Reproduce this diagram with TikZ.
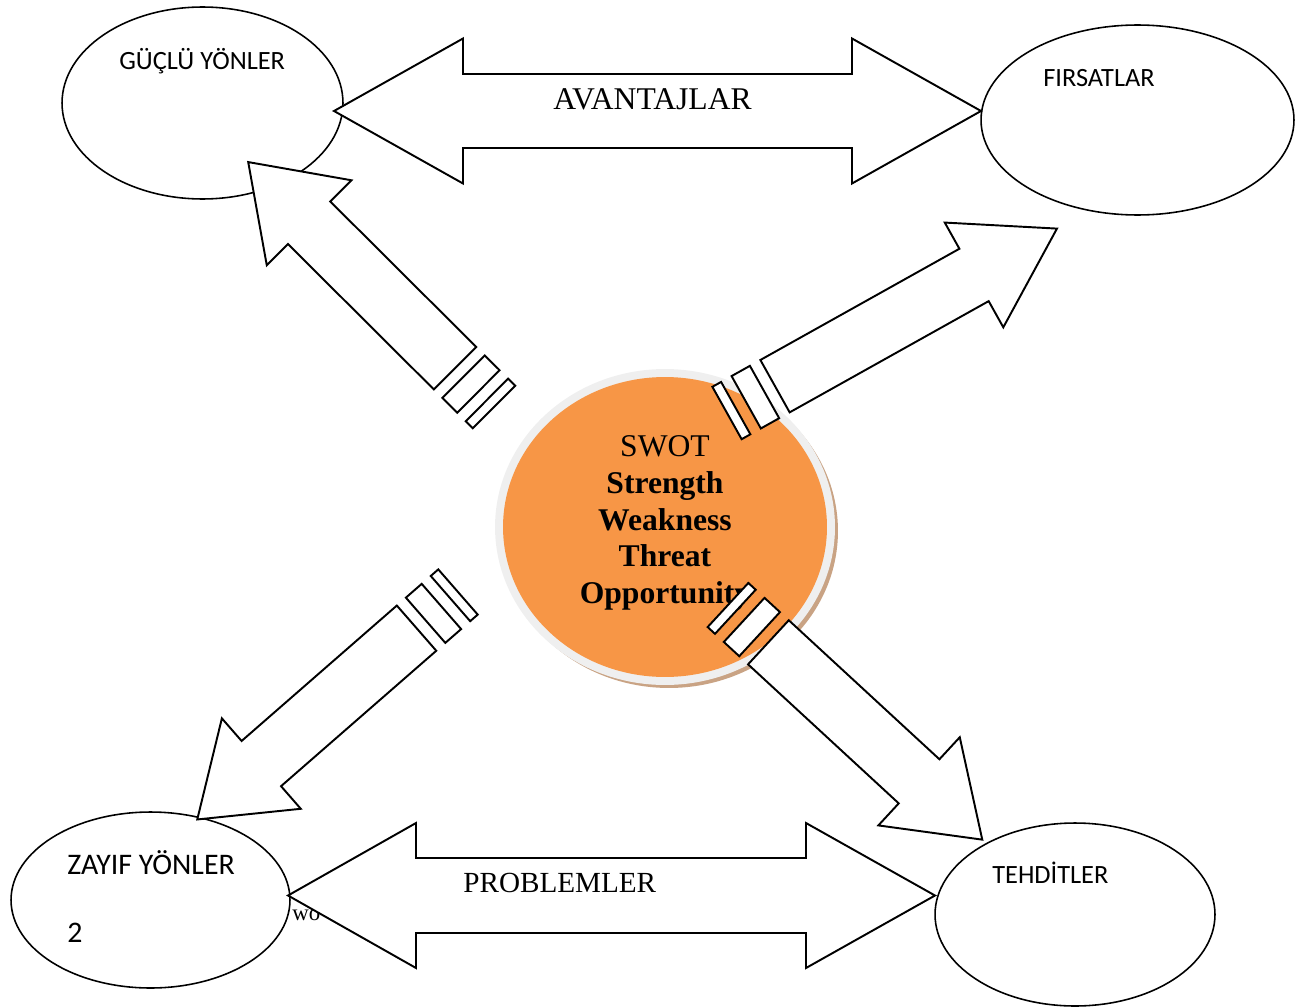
\documentclass[tikz,border=0pt]{standalone}
\usepackage{fontspec}
\setmainfont{Liberation Serif}
\newfontfamily\calibri{Carlito}
\usepackage{tikz}
\usetikzlibrary{positioning}
\usetikzlibrary{shapes.geometric}

\definecolor{swotorange}{HTML}{F79646}
\definecolor{ringgray}{HTML}{EFEFEF}
\definecolor{shadowtan}{HTML}{C9A384}

\begin{document}
\begin{tikzpicture}[
    x=0.02cm, y=-0.02cm,
    ellnode/.style={draw,ellipse,line width=0.9pt,inner sep=0pt},
    elltext/.style={anchor=base west,inner sep=0pt,font=\calibri\fontsize{15}{18}\selectfont},
    arrowline/.style={draw,fill=white,line width=1.1pt},
    pics/stripedarrow/.style args={#1/#2}{code={
        \draw[arrowline] (0,-30) rectangle (10,30);
        \draw[arrowline] (22,-30) rectangle (43,30);
        \draw[arrowline] (55,-30) -- (55+#1,-30) -- (55+#1,-60) -- (55+#1+#2,0)
            -- (55+#1,60) -- (55+#1,30) -- (55,30) -- cycle;
    }}
    ]
    \useasboundingbox (0,0) rectangle (1304,1007);

    \node[ellnode, minimum width=5.62cm, minimum height=3.84cm] (guclu) at (202.5,103) {};
    \node[ellnode, minimum width=6.26cm, minimum height=3.8cm] (firsat) at (1137.5,120) {};
    \node[ellnode, minimum width=5.58cm, minimum height=3.52cm] (zayif) at (150.5,900) {};
    \node[ellnode, minimum width=5.6cm, minimum height=3.66cm] (tehdit) at (1075,914.5) {};

    \node[elltext] (gucluT) at (119,69.5) {GÜÇLÜ YÖNLER};
    \node[elltext] (firsatT) at (1043,87) {FIRSATLAR};
    \node[elltext, font=\calibri\fontsize{17}{20}\selectfont] (zayifT) at (67,874) {ZAYIF YÖNLER};
    \node[elltext, font=\calibri\fontsize{17}{20}\selectfont] (zayifN) at (67,942) {2};
    \node[elltext] (tehditT) at (992,883.5) {TEHDİTLER};
    \node[anchor=base west, inner sep=0pt, font=\fontsize{13}{15}\selectfont] (weak) at (292,920) {wo};

    % center
    \node[ellipse, fill=shadowtan, minimum width=6.76cm, minimum height=6.28cm] (swotshadow) at (669,531) {};
    \node[ellipse, fill=ringgray, minimum width=6.8cm, minimum height=6.32cm] (swotring) at (665,527) {};
    \node[ellipse, fill=swotorange, minimum width=6.48cm, minimum height=6cm] (swot) at (665,527) {};
    \node[font=\fontsize{18}{20.8}\selectfont, align=center, inner sep=0pt] (swottext) at (665,523)
        {SWOT\\\textbf{Strength}\\\textbf{Weakness}\\\textbf{Threat}\\\textbf{Opportunity}};

    % double arrows
    \draw[arrowline] (334,111) -- (463,38.5) -- (463,74) -- (852,74) -- (852,38.5) -- (981,111)
        -- (852,183.5) -- (852,148) -- (463,148) -- (463,183.5) -- cycle;
    \node[anchor=base west, inner sep=0pt, font=\fontsize{18}{21}\selectfont] (avantaj) at (553,109.5) {AVANTAJLAR};

    \draw[arrowline] (288,895.5) -- (416,823) -- (416,858) -- (806,858) -- (806,823) -- (935,895.5)
        -- (806,968) -- (806,933) -- (416,933) -- (416,968) -- cycle;
    \node[anchor=base west, inner sep=0pt, font=\fontsize{16.6}{20}\selectfont] (problem) at (463,892) {PROBLEMLER};

    % striped arrows
    \pic[rotate=135.1] at (494,407) {stripedarrow=206/86};
    \pic[rotate=29.2] at (727,413) {stripedarrow=228/95};
    \pic[rotate=221.1] at (458,592) {stripedarrow=206/85};
    \pic[rotate=-42.7] at (728,605) {stripedarrow=205/86};

\end{tikzpicture}
\end{document}
